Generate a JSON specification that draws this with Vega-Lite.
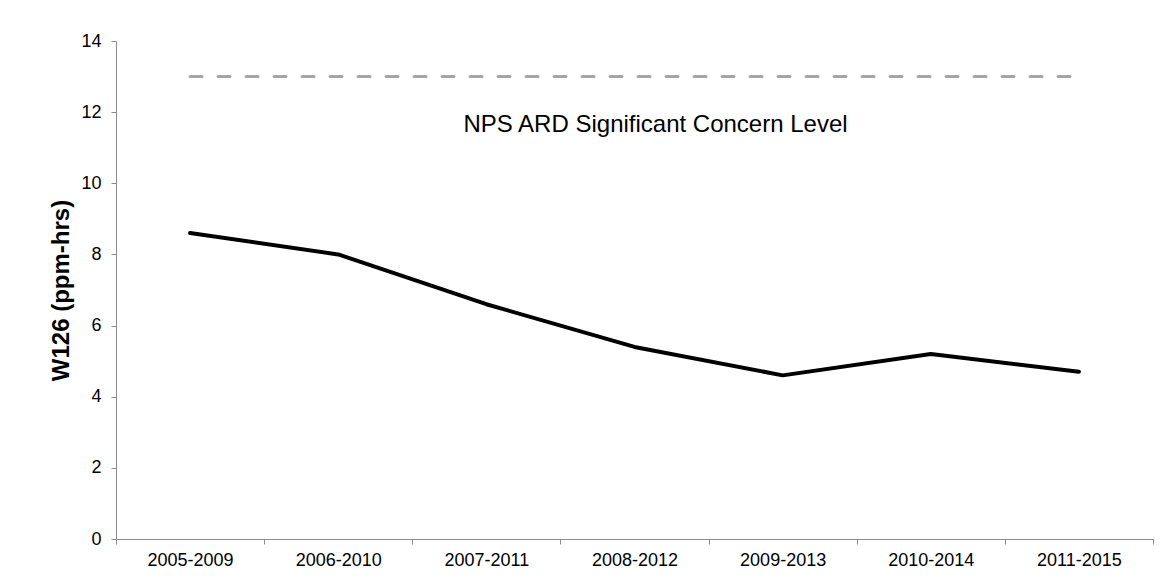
{
  "$schema": "https://vega.github.io/schema/vega-lite/v6.json",
  "autosize": "none",
  "width": 1037,
  "height": 498,
  "padding": {"left": 116, "top": 41, "right": 17, "bottom": 44},
  "background": "white",
  "config": {
    "view": {"stroke": null},
    "font": "Liberation Sans",
    "axis": {"grid": false, "domainColor": "#8c8c8c", "tickColor": "#8c8c8c", "tickSize": 5, "labelColor": "#000000", "labelFontSize": 18, "labelFont": "Liberation Sans", "titleFont": "Liberation Sans"}
  },
  "datasets": {
    "w126": [
      {"period": "2005-2009", "value": 8.6},
      {"period": "2006-2010", "value": 8.0},
      {"period": "2007-2011", "value": 6.6},
      {"period": "2008-2012", "value": 5.4},
      {"period": "2009-2013", "value": 4.6},
      {"period": "2010-2014", "value": 5.2},
      {"period": "2011-2015", "value": 4.7}
    ],
    "concern": [
      {"period": "2005-2009", "value": 13},
      {"period": "2011-2015", "value": 13}
    ],
    "label": [
      {"period": "2008-2012", "value": 11.65, "text": "NPS ARD Significant Concern Level"}
    ]
  },
  "encoding": {
    "x": {
      "field": "period", "type": "ordinal",
      "sort": ["2005-2009", "2006-2010", "2007-2011", "2008-2012", "2009-2013", "2010-2014", "2011-2015"],
      "scale": {"type": "band", "domain": ["2005-2009", "2006-2010", "2007-2011", "2008-2012", "2009-2013", "2010-2014", "2011-2015"], "paddingInner": 0, "paddingOuter": 0},
      "axis": {"title": null, "labelAngle": 0, "tickBand": "extent", "labelPadding": 7}
    },
    "y": {
      "field": "value", "type": "quantitative",
      "scale": {"domain": [0, 14], "nice": false},
      "axis": {"title": "W126 (ppm-hrs)", "values": [0, 2, 4, 6, 8, 10, 12, 14], "titleFontSize": 24, "titleFontWeight": "bold", "titleColor": "#000000", "titlePadding": 7, "labelPadding": 10}
    }
  },
  "layer": [
    {
      "data": {"name": "concern"},
      "mark": {"type": "line", "color": "#a6a6a6", "strokeWidth": 3, "strokeDash": [12, 16], "strokeCap": "round"}
    },
    {
      "data": {"name": "w126"},
      "mark": {"type": "line", "color": "#000000", "strokeWidth": 4, "strokeJoin": "round", "strokeCap": "round"}
    },
    {
      "data": {"name": "label"},
      "mark": {"type": "text", "fontSize": 24, "color": "#000000", "dx": 21, "align": "center", "baseline": "middle"},
      "encoding": {
        "text": {"field": "text"}
      }
    }
  ]
}
